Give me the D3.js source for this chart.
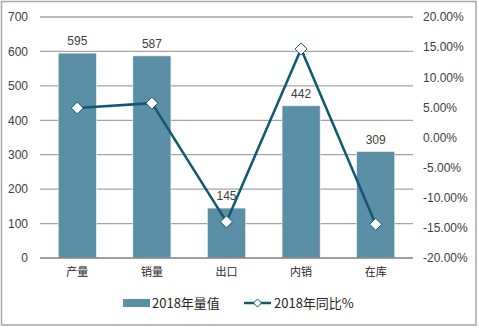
<!DOCTYPE html>
<html><head><meta charset="utf-8">
<script src="https://cdn.jsdelivr.net/npm/d3@7/dist/d3.min.js"></script>
<style>body{margin:0;background:#fff}svg{display:block}</style>
</head><body><svg id="c" width="479" height="328"></svg>
<script>
const categories = ["产量","销量","出口","内销","在库"];
const volumes = [595, 587, 145, 442, 309];
const yoy = [4.9, 5.7, -14.0, 14.7, -14.4];
const leftTicks = [0,100,200,300,400,500,600,700];
const rightTicks = [-20,-15,-10,-5,0,5,10,15,20];
const legendLabels = ["2018年量值","2018年同比%"];

const svg = d3.select("#c");
const barColor = "#5b8fa6", lineColor = "#0f5a72";
const L = 40, R = 413, T = 17, B = 258;

svg.append("rect").attr("x",1.5).attr("y",1.5).attr("width",474.5).attr("height",323.5)
  .attr("fill","#fff").attr("stroke","#a6a6a6").attr("stroke-width",1.5);

const x = d3.scaleBand().domain(categories).range([L,R]).paddingInner(0.49).paddingOuter(0.245);
const y = d3.scaleLinear().domain([0,700]).range([B,T]);
const y2 = d3.scaleLinear().domain([-20,20]).range([B,T]);

// gridlines
svg.append("g").selectAll("line").data(leftTicks.filter(d=>d>0)).join("line")
  .attr("x1",L).attr("x2",R).attr("y1",d=>y(d)).attr("y2",d=>y(d))
  .attr("stroke","#a6a6a6").attr("stroke-width",1.3);

// left axis
const ga = svg.append("g").attr("transform",`translate(${L},0)`)
  .call(d3.axisLeft(y).tickValues(leftTicks).tickSize(0).tickPadding(12));
ga.select(".domain").remove();
ga.selectAll("text").attr("font-family","Arial, Liberation Sans, sans-serif").attr("font-size",12).attr("fill","#404040");

// right axis
const gr = svg.append("g").attr("transform",`translate(${R},0)`)
  .call(d3.axisRight(y2).tickValues(rightTicks).tickSize(0).tickPadding(10).tickFormat(d=>d.toFixed(2)+"%"));
gr.select(".domain").remove();
gr.selectAll("text").attr("font-family","Arial, Liberation Sans, sans-serif").attr("font-size",12).attr("fill","#404040");

// bars
svg.append("g").selectAll("rect").data(volumes).join("rect")
  .attr("x",(d,i)=>x(categories[i])).attr("width",x.bandwidth())
  .attr("y",d=>y(d)).attr("height",d=>y(0)-y(d))
  .attr("fill",barColor).attr("stroke","#e8eef2").attr("stroke-width",0.6);

// baseline
svg.append("line").attr("x1",L).attr("x2",R).attr("y1",y(0)).attr("y2",y(0))
  .attr("stroke","#7f7f7f").attr("stroke-width",1.5);

// bar labels
svg.append("g").selectAll("text").data(volumes).join("text")
  .attr("x",(d,i)=>x(categories[i])+x.bandwidth()/2).attr("y",d=>y(d)-8)
  .attr("text-anchor","middle").attr("font-family","Arial, Liberation Sans, sans-serif")
  .attr("font-size",12).attr("fill","#404040").text(d=>d);

// category labels
svg.append("g").selectAll("text").data(categories).join("text")
  .attr("x",d=>x(d)+x.bandwidth()/2).attr("y",B+18)
  .attr("text-anchor","middle").attr("font-family","Noto Sans CJK SC, sans-serif")
  .attr("font-size",11).attr("fill","#262626").text(d=>d);

// line
const cx = (i)=>x(categories[i])+x.bandwidth()/2;
svg.append("path").datum(yoy)
  .attr("d",d3.line().x((d,i)=>cx(i)).y(d=>y2(d)))
  .attr("fill","none").attr("stroke",lineColor).attr("stroke-width",2.5);
const diamond = "M0,-6L6,0L0,6L-6,0Z";
svg.append("g").selectAll("path").data(yoy).join("path")
  .attr("transform",(d,i)=>`translate(${cx(i)},${y2(d)})`)
  .attr("d",diamond).attr("fill","#fff").attr("stroke",lineColor).attr("stroke-width",1);

// legend
const lg = svg.append("g");
lg.append("rect").attr("x",123).attr("y",299).attr("width",27).attr("height",8).attr("fill",barColor);
lg.append("text").attr("x",152).attr("y",308).attr("font-family","Noto Sans CJK SC, sans-serif")
  .attr("font-size",13).attr("fill","#262626").text(legendLabels[0]);
lg.append("line").attr("x1",244).attr("x2",271).attr("y1",303).attr("y2",303)
  .attr("stroke",lineColor).attr("stroke-width",2.5);
lg.append("path").attr("transform","translate(257.5,303)").attr("d","M0,-4L4,0L0,4L-4,0Z")
  .attr("fill","#fff").attr("stroke",lineColor).attr("stroke-width",1);
lg.append("text").attr("x",274).attr("y",308).attr("font-family","Noto Sans CJK SC, sans-serif")
  .attr("font-size",13).attr("fill","#262626").text(legendLabels[1]);
</script></body></html>
